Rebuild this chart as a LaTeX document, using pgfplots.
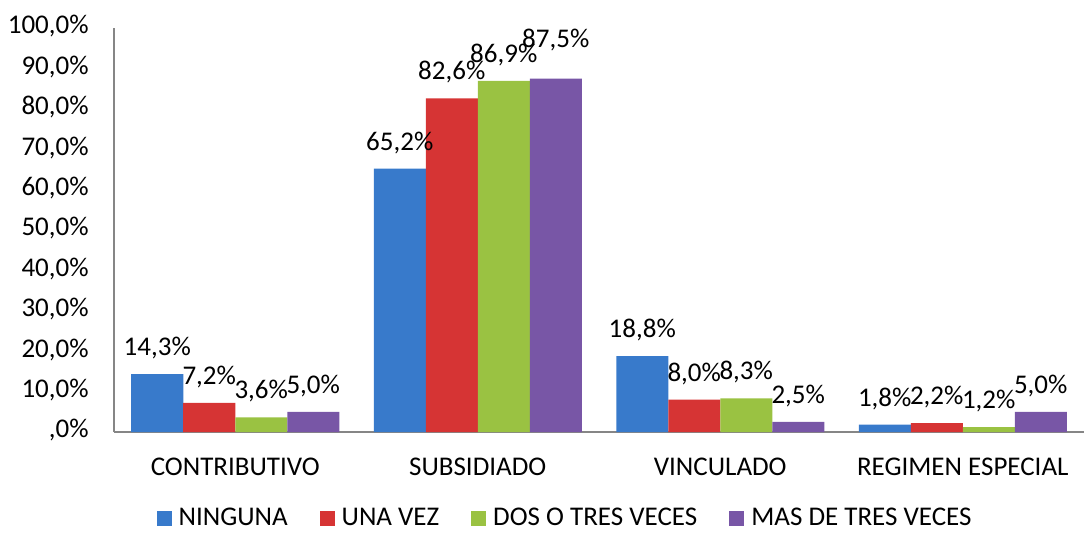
\documentclass[border=0pt]{standalone}
\usepackage{fontspec}
\setmainfont{Carlito}
\usepackage{pgfplots}
\usepackage{pgfplotstable}
\pgfplotsset{compat=1.18}
\definecolor{cblue}{RGB}{56,122,203}
\definecolor{cred}{RGB}{214,52,52}
\definecolor{cgreen}{RGB}{154,194,66}
\definecolor{cpurple}{RGB}{120,86,166}
\definecolor{axgray}{RGB}{134,134,134}

\pgfplotstableread{
x y dy
0 14.3 0
1 65.2 0
2 18.8 0
3 1.8 0
}\ninguna
\pgfplotstableread{
x y dy
0 7.2 0
1 82.6 0
2 8.0 0
3 2.2 0
}\unavez
\pgfplotstableread{
x y dy
0 3.6 0
1 86.9 0
2 8.3 0
3 1.2 0
}\dostres
\pgfplotstableread{
x y dy
0 5.0 0
1 87.5 6.5
2 2.5 0
3 5.0 0
}\mastres

\begin{document}
\fontsize{13.5}{16}\selectfont
\begin{tikzpicture}
\useasboundingbox (0,0) rectangle (543.5pt,266pt);
\begin{axis}[
  at={(57pt,50pt)}, anchor=south west,
  scale only axis, width=485pt, height=202pt,
  xmin=-0.5, xmax=3.5, ymin=0, ymax=100,
  ybar=0pt, bar width=26pt,
  axis x line*=bottom, axis y line*=left,
  axis line style={-, draw=axgray, line width=1pt},
  /pgf/number format/assume math mode=true,
  xtick={0,1,2,3},
  xticklabels={CONTRIBUTIVO,SUBSIDIADO,VINCULADO,REGIMEN ESPECIAL},
  ytick={0,10,...,100},
  yticklabels={{,0\%},{10,0\%},{20,0\%},{30,0\%},{40,0\%},{50,0\%},{60,0\%},{70,0\%},{80,0\%},{90,0\%},{100,0\%}},
  major tick length=0pt,
  xticklabel style={inner sep=0pt, anchor=north, yshift=-13pt},
  yticklabel style={inner sep=0pt, anchor=east, xshift=-12.5pt, yshift=0.8pt},
  visualization depends on={\thisrow{dy} \as \dy},
  nodes near coords={\pgfmathprintnumber[fixed,fixed zerofill,precision=1,use comma]{\pgfplotspointmeta}\%},
  every node near coord/.append style={anchor=base, inner sep=0pt, yshift={(9.25+\dy)*1pt}, text=black},
  legend style={at={(0.464,-0.215)}, anchor=center, draw=none, fill=none,
    legend columns=4, nodes={inner sep=0pt},
    /tikz/every odd column/.append style={column sep=3.5pt},
    /tikz/every even column/.append style={column sep=16pt}},
  mybar/.style={draw=none, fill=#1,
    legend image code/.code={\fill[#1] (0pt,-3.75pt) rectangle (7.5pt,3.75pt);}},
]
\addplot[mybar=cblue] table[x=x,y=y] {\ninguna};
\addplot[mybar=cred] table[x=x,y=y] {\unavez};
\addplot[mybar=cgreen] table[x=x,y=y] {\dostres};
\addplot[mybar=cpurple] table[x=x,y=y] {\mastres};
\legend{NINGUNA,UNA VEZ,DOS O TRES VECES,MAS DE TRES VECES}
\end{axis}
\end{tikzpicture}
\end{document}
